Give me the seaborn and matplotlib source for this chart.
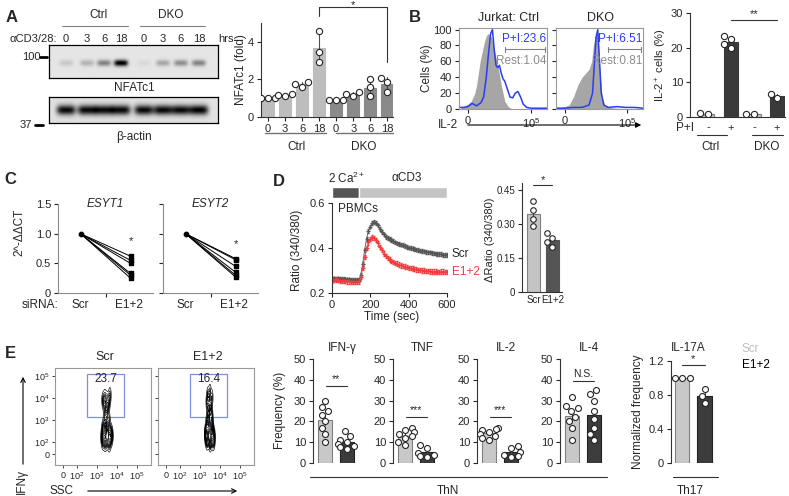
import numpy as np
import pandas as pd
import matplotlib
matplotlib.use('Agg')
import matplotlib.pyplot as plt
import seaborn as sns
from matplotlib.lines import Line2D
from matplotlib.patches import FancyArrowPatch, Rectangle

# ---------------- data ----------------
# A: western blot band strength (0 = none, 1 = saturated)
lane_labels = ['0', '3', '6', '18', '0', '3', '6', '18']
nfatc1_bands = [0.12, 0.2, 0.4, 0.95, 0.05, 0.25, 0.35, 0.4]
actin_bands = [0.85, 0.85, 0.85, 0.85, 0.85, 0.85, 0.85, 0.88]
# A: NFATc1 fold, 3 replicates per time point
nfat_groups = ['Ctrl 0', 'Ctrl 3', 'Ctrl 6', 'Ctrl 18', 'DKO 0', 'DKO 3', 'DKO 6', 'DKO 18']
nfat_points = [[1.0, 1.0, 1.0], [1.1, 1.15, 1.2], [1.6, 1.75, 1.85], [4.6, 3.45, 2.9],
               [0.9, 0.9, 0.9], [1.1, 1.2, 1.35], [1.1, 1.6, 2.0], [1.35, 1.85, 2.1]]

# B: IL-2 histograms (x as fraction of axis, y = cells %)
ctrl_rest_x = [0, 0.05, 0.1, 0.14, 0.18, 0.2, 0.22, 0.24, 0.27, 0.29, 0.31, 0.33, 0.35, 0.37,
               0.39, 0.41, 0.43, 0.45, 0.48, 0.52, 0.56, 0.6, 1.0]
ctrl_rest_y = [0, 3, 6, 10, 20, 30, 45, 60, 75, 85, 92, 95, 93, 90, 80, 70, 60, 50, 30, 10, 3, 0, 0]
ctrl_pi_x = [0, 0.05, 0.1, 0.15, 0.2, 0.25, 0.28, 0.31, 0.34, 0.36, 0.38, 0.40, 0.42, 0.44, 0.46,
             0.48, 0.50, 0.52, 0.55, 0.58, 0.61, 0.64, 0.67, 0.70, 0.73, 0.77, 0.82, 0.9, 1.0]
ctrl_pi_y = [2, 2, 3, 7, 4, 8, 15, 40, 75, 95, 100, 75, 55, 52, 55, 45, 38, 35, 25, 15, 14, 20,
             22, 15, 6, 2, 1, 1, 1]
dko_rest_x = [0, 0.05, 0.1, 0.15, 0.2, 0.25, 0.3, 0.34, 0.38, 0.41, 0.43, 0.45, 0.47, 0.49, 0.51,
              0.53, 0.56, 0.6, 0.7, 1.0]
dko_rest_y = [0, 2, 3, 5, 15, 30, 40, 45, 50, 60, 80, 92, 95, 80, 40, 15, 5, 2, 1, 0]
dko_pi_x = [0, 0.1, 0.2, 0.3, 0.38, 0.42, 0.44, 0.46, 0.48, 0.50, 0.52, 0.55, 0.6, 0.7, 0.8, 0.9, 1.0]
dko_pi_y = [1, 1, 2, 2, 5, 20, 55, 90, 100, 60, 20, 5, 2, 3, 2, 2, 1]
# B: IL-2+ cells
il2_groups = ['Ctrl -', 'Ctrl +', 'DKO -', 'DKO +']
il2_points = [[0.9, 1.1], [23.5, 22.5, 21.0, 20.0], [0.8, 1.0], [6.6, 5.4]]

# C: qPCR 2^-ddCT, Scr = 1
esyt1_e12 = [0.62, 0.55, 0.5, 0.33, 0.3, 0.25]
esyt2_e12 = [0.58, 0.56, 0.45, 0.35, 0.3, 0.27]

# D: calcium traces (every 10 s)
time_sec = list(range(0, 610, 10))
scr_ratio = [0.265, 0.265, 0.262, 0.265, 0.263, 0.262, 0.262, 0.26, 0.26, 0.26, 0.258, 0.258, 0.257,
             0.257, 0.257,
             0.28, 0.33, 0.39, 0.44, 0.475, 0.495, 0.51, 0.515, 0.51, 0.5,
             0.485, 0.47, 0.46, 0.45, 0.445, 0.44, 0.435, 0.43, 0.425, 0.42,
             0.418, 0.415, 0.412, 0.41, 0.405, 0.402, 0.4, 0.398, 0.395, 0.393,
             0.39, 0.388, 0.386, 0.385, 0.383, 0.38, 0.38, 0.378, 0.376, 0.375,
             0.374, 0.372, 0.372, 0.37, 0.37, 0.37]
e12_ratio = [0.255, 0.258, 0.26, 0.258, 0.255, 0.255, 0.253, 0.255, 0.252, 0.252, 0.25, 0.25, 0.25,
             0.25, 0.252,
             0.27, 0.31, 0.36, 0.4, 0.425, 0.44, 0.447, 0.445, 0.435, 0.42,
             0.405, 0.39, 0.375, 0.365, 0.355, 0.348, 0.342, 0.337, 0.333, 0.33,
             0.326, 0.323, 0.32, 0.317, 0.315, 0.312, 0.31, 0.308, 0.306, 0.305,
             0.303, 0.302, 0.3, 0.299, 0.298, 0.297, 0.296, 0.295, 0.295, 0.295,
             0.294, 0.294, 0.295, 0.295, 0.294, 0.294]
scr_sem = 0.008
e12_sem = 0.01
dratio_scr = [0.40, 0.36, 0.32, 0.29]
dratio_e12 = [0.26, 0.24, 0.22, 0.20]

# E: flow events (log10 SSC, log10 IFNg)
scr_ssc = [3.4, 3.5, 3.6, 3.35, 3.55, 3.3, 3.65, 3.45, 3.5, 3.4, 3.6, 3.5, 3.35, 3.3, 3.55, 3.65,
           3.4, 3.7, 3.5, 3.3, 3.6, 3.4, 3.5, 3.7, 3.35, 3.55, 3.65, 3.3, 3.45, 3.4, 3.6, 3.5,
           3.75, 3.25]
scr_ifng = [4.05, 3.95, 3.85, 3.8, 3.7, 3.9, 4.15, 3.6, 3.4, 3.2, 3.0, 2.85, 2.7, 2.6, 2.55, 2.5,
            2.45, 2.4, 2.35, 2.3, 2.3, 2.25, 2.2, 2.2, 2.15, 2.1, 2.05, 2.0, 2.0, 1.95, 1.9, 2.4,
            2.3, 2.2]
e12_ssc = [3.5, 3.4, 3.6, 3.45, 3.35, 3.55, 3.5, 3.4, 3.6, 3.5, 3.35, 3.6, 3.4, 3.55, 3.3, 3.65,
           3.5, 3.35, 3.7, 3.45, 3.3, 3.6, 3.5, 3.4, 3.7, 3.55, 3.35, 3.65, 3.5, 3.3, 3.45, 3.6]
e12_ifng = [4.3, 4.15, 4.05, 3.95, 3.8, 3.6, 3.45, 3.3, 3.15, 3.0, 2.9, 2.75, 2.6, 2.5, 2.45, 2.4,
            2.35, 2.3, 2.3, 2.25, 2.2, 2.2, 2.15, 2.1, 2.1, 2.05, 2.0, 1.95, 1.9, 2.35, 2.4, 2.55]
gate_pct = ['23.7', '16.4']
# E: cytokine frequencies (%)
ifng_scr = [30, 27, 25, 23, 20, 17, 14, 10]
ifng_e12 = [15.5, 13, 11, 10, 9, 8, 7.5, 6.5]
tnf_scr = [17, 16, 15, 14, 13, 12, 10, 8.5]
tnf_e12 = [8.5, 7, 5, 4, 3.5, 3]
il2_scr = [17, 16.5, 16, 15, 14, 13, 12, 11]
il2_e12 = [8, 7, 5.5, 4, 3.5, 3]
il4_scr = [31.5, 27.5, 26.5, 25, 22, 20, 17, 11]
il4_e12 = [35, 33, 30, 25, 21, 17, 14, 11]
il17_scr = [1.0, 1.0, 1.0]
il17_e12 = [0.87, 0.79, 0.71]

# ---------------- figure helpers ----------------
W, H = 789, 496
sns.set_style('ticks')
plt.rcParams['font.family'] = ['Liberation Sans', 'DejaVu Sans']
plt.rcParams.update({
    'mathtext.fontset': 'custom', 'mathtext.rm': 'Liberation Sans',
    'mathtext.it': 'Liberation Sans:italic', 'mathtext.default': 'regular',
    'axes.linewidth': 0.8, 'axes.edgecolor': '0.2',
    'xtick.major.width': 0.8, 'ytick.major.width': 0.8,
    'xtick.major.size': 3, 'ytick.major.size': 3,
    'xtick.labelsize': 8, 'ytick.labelsize': 8,
    'xtick.major.pad': 2, 'ytick.major.pad': 2,
})
fig = plt.figure(figsize=(W / 100, H / 100), dpi=100)


def px_ax(x0, y0, x1, y1):
    return fig.add_axes([x0 / W, 1 - y1 / H, (x1 - x0) / W, (y1 - y0) / H])


def ftext(x, y, s, size=8, ha='center', va='center', **kw):
    fig.text(x / W, 1 - y / H, s, size=size, ha=ha, va=va, **kw)


def fline(x0, y0, x1, y1, lw=0.8, color='0.2'):
    fig.add_artist(Line2D([x0 / W, x1 / W], [1 - y0 / H, 1 - y1 / H], lw=lw, color=color))


def farrow(x0, y0, x1, y1, style='-|>'):
    fig.add_artist(FancyArrowPatch((x0 / W, 1 - y0 / H), (x1 / W, 1 - y1 / H),
                                   transform=fig.transFigure, arrowstyle=style,
                                   mutation_scale=8, lw=0.8, color='black'))


def bar_panel(ax, groups, point_lists, faces, edges, width, errorbar, size=4.5):
    df = pd.DataFrame({'grp': [g for g, pts in zip(groups, point_lists) for _ in pts],
                       'val': [v for pts in point_lists for v in pts]})
    sns.barplot(data=df, x='grp', y='val', hue='grp', order=groups, hue_order=groups,
                palette=dict(zip(groups, faces)), errorbar=errorbar, width=width,
                legend=False, err_kws={'linewidth': 0.8, 'color': '0.3'}, ax=ax)
    for patch, ec in zip(ax.patches, edges):
        patch.set_edgecolor(ec)
        patch.set_linewidth(0.8)
    sns.swarmplot(data=df, x='grp', y='val', order=groups, color='white',
                  edgecolor='0.15', linewidth=0.8, size=size, ax=ax)
    ax.set_xlabel('')
    ax.set_ylabel('')
    sns.despine(ax=ax)


# ---------------- panel A ----------------
ftext(12, 18, 'A', size=12, weight='bold')
ftext(99, 15, 'Ctrl', size=8.5)
ftext(171, 15, 'DKO', size=8.5)
fline(62, 26, 128, 26, color='0.5')
fline(140, 26, 205, 26, color='0.5')
ftext(33, 39, 'αCD3/28:', size=8)
lane_x = [66, 87, 104, 121, 144, 163, 181, 199]
for lx, lab in zip(lane_x, lane_labels):
    ftext(lx, 39, lab, size=8)
ftext(226, 39, 'hrs', size=8)


def blot(ax, bands, y0, y1, yc, hh, hw, bg):
    xs = np.linspace(49, 218, 340)
    ys = np.linspace(y0, y1, 80)
    X, Y = np.meshgrid(xs, ys)
    img = np.full(X.shape, bg)
    for lx, v in zip(lane_x, bands):
        img -= v * np.exp(-((X - lx) / hw) ** 4 - ((Y - yc) / hh) ** 2)
    ax.imshow(np.clip(img, 0, 1), cmap='gray', vmin=0, vmax=1,
              extent=(49, 218, y1, y0), aspect='auto', interpolation='bilinear')
    ax.set_xlim(49, 218)
    ax.set_ylim(y1, y0)
    ax.set_xticks([])
    ax.set_yticks([])
    for s in ax.spines.values():
        s.set_linewidth(0.9)
        s.set_color('black')


blot(px_ax(49, 45, 218, 78), nfatc1_bands, 45, 78, 63, 3.2, 7, 0.9)
blot(px_ax(49, 97, 218, 123), actin_bands, 97, 123, 110, 5, 9.5, 0.88)
ftext(31, 57, '100', size=8)
fline(40, 57, 47, 57, lw=2, color='black')
ftext(26, 125, '37', size=8)
fline(35, 125, 43, 125, lw=2, color='black')
ftext(134, 88, 'NFATc1', size=8.5)
ftext(134, 137, 'β-actin', size=8.5)

ax = px_ax(261, 23, 393, 117)
bar_panel(ax, nfat_groups, nfat_points, ['#bdbdbd'] * 4 + ['#8a8a8a'] * 4,
          ['#bdbdbd'] * 4 + ['#8a8a8a'] * 4, 0.7, 'sd', size=4.5)
ax.set_ylim(0, 5)
ax.set_xlim(-0.42, 7.34)
ax.set_yticks([0, 2, 4])
ax.set_xticks(range(8))
ax.set_xticklabels(lane_labels)
ax.plot([3, 3, 7, 7], [5.35, 5.87, 5.87, 2.95], color='0.2', lw=0.8, clip_on=False)
ax.text(5, 5.77, '*', ha='center', va='baseline', size=8, clip_on=False)
ftext(241, 70, 'NFATc1 (fold)', size=8.5, rotation=90)
fline(265, 133, 326, 133, color='0.45', lw=1)
fline(336, 133, 393, 133, color='0.45', lw=1)
ftext(296, 147, 'Ctrl', size=8.5)
ftext(364, 147, 'DKO', size=8.5)

# ---------------- panel B ----------------
ftext(415, 18, 'B', size=12, weight='bold')
ftext(508, 18, 'Jurkat: Ctrl', size=9)
ftext(600, 18, 'DKO', size=9)
hists = [(px_ax(459, 28, 547, 109), ctrl_rest_x, ctrl_rest_y, ctrl_pi_x, ctrl_pi_y,
          'P+I:23.6', 'Rest:1.04', 0.52),
         (px_ax(556, 28, 643, 109), dko_rest_x, dko_rest_y, dko_pi_x, dko_pi_y,
          'P+I:6.51', 'Rest:0.81', 0.6)]
for i, (ax, rx, ry, px, py, t1, t2, gx) in enumerate(hists):
    ax.fill_between(rx, ry, color='#a6a6a6', lw=0)
    sns.lineplot(x=px, y=py, color='#2b3cf2', lw=1.1, ax=ax)
    ax.set_xlim(0, 1)
    ax.set_ylim(0, 102)
    ax.set_xticks([0.1, 0.82])
    ax.set_xticklabels(['0', '$10^5$'])
    ax.set_yticks([0, 20, 40, 60, 80, 100])
    if i > 0:
        ax.set_yticklabels([])
    for s in ax.spines.values():
        s.set_color('0.6')
    ax.plot([gx, 0.98], [75, 75], color='0.5', lw=0.8)
    ax.plot([gx, gx], [72, 78], color='0.5', lw=0.8)
    ax.plot([0.98, 0.98], [72, 78], color='0.5', lw=0.8)
    ax.text(0.99, 88, t1, color='#2b3cf2', ha='right', va='center', size=8.5)
    ax.text(0.99, 60, t2, color='0.55', ha='right', va='center', size=8.5)
ftext(427, 68, 'Cells (%)', size=8.5, rotation=90)
ftext(448, 125, 'IL-2', size=8.5)
farrow(465, 125, 644, 125)

ax = px_ax(690, 13, 785, 117)
bar_panel(ax, il2_groups, il2_points, ['#c4c4c4', '#3a3a3a', '#c4c4c4', '#3a3a3a'],
          ['0.5', '#3a3a3a', '0.5', '#3a3a3a'], 0.57, 'se', size=4.5)
ax.set_ylim(0, 30)
ax.set_xlim(-0.78, 3.35)
ax.set_yticks([0, 10, 20, 30])
ax.set_xticks(range(4))
ax.set_xticklabels(['-', '+', '-', '+'])
ax.tick_params(axis='x', length=0, pad=4)
ax.plot([1, 3], [28, 28], color='0.2', lw=0.8, clip_on=False)
ax.text(2, 28.3, '**', ha='center', va='bottom', size=8)
ftext(661, 65, 'IL-2$^+$ cells (%)', size=8, rotation=90)
ftext(685, 128, 'P+I', size=8.5)
fline(697, 135, 727, 135, color='0.2')
fline(752, 135, 783, 135, color='0.2')
ftext(711, 147, 'Ctrl', size=8.5)
ftext(767, 147, 'DKO', size=8.5)

# ---------------- panel C ----------------
ftext(10, 180, 'C', size=12, weight='bold')
for i, (x0, vals, title) in enumerate([(58, esyt1_e12, 'ESYT1'), (163, esyt2_e12, 'ESYT2')]):
    ax = px_ax(x0, 204, x0 + 95, 293)
    df = pd.DataFrame({'rep': list(range(len(vals))) * 2,
                       'pos': [0] * len(vals) + [1] * len(vals),
                       'val': [1.0] * len(vals) + vals})
    sns.lineplot(data=df, x='pos', y='val', units='rep', estimator=None,
                 color='black', lw=0.7, ax=ax)
    ax.scatter([0], [1.0], s=10, marker='o', color='black', zorder=3)
    ax.scatter([1] * len(vals), vals, s=12, marker='s', color='black', zorder=3)
    ax.text(1, max(vals) + 0.25, '*', ha='center', va='center', size=8)
    ax.set_xlim(-0.45, 1.45)
    ax.set_ylim(0, 1.5)
    ax.set_yticks([0, 0.5, 1.0, 1.5])
    ax.set_yticklabels(['0', '0.5', '1.0', '1.5'] if i == 0 else [])
    ax.set_xticks([0.5])
    ax.set_xticklabels([''])
    ax.set_xlabel('')
    ax.set_ylabel('')
    for s in ['left', 'bottom']:
        ax.spines[s].set_color('0.55')
    sns.despine(ax=ax)
    ax.text(0.5, 1.5, title, style='italic', ha='center', va='center', size=8.5)
    ftext(x0 + 22, 305, 'Scr', size=8.5)
    ftext(x0 + 71, 305, 'E1+2', size=8.5)
ftext(40, 305, 'siRNA:', size=8.5)
ftext(19, 232, '2^-ΔΔCT', size=8.5, rotation=90)

# ---------------- panel D ----------------
ftext(279, 182, 'D', size=12, weight='bold')
ax = px_ax(332, 187, 447, 198)
ax.barh([0, 0], [140, 460], left=[0, 140], color=['#555555', '#c4c4c4'], height=1)
ax.set_xlim(0, 600)
ax.set_ylim(-0.5, 0.5)
ax.axis('off')
ftext(347, 178, '2 Ca$^{2+}$', size=8.5)
ftext(407, 178, 'αCD3', size=8.5)

ax = px_ax(332, 203, 447, 293)
ax.errorbar(time_sec, scr_ratio, yerr=scr_sem, color='#555555', marker='+', ms=2.5, lw=0.6,
            elinewidth=0.5, capsize=1)
ax.errorbar(time_sec, e12_ratio, yerr=e12_sem, color='#f03c3c', marker='+', ms=2.5, lw=0.6,
            elinewidth=0.5, capsize=1)
ax.set_xlim(0, 600)
ax.set_ylim(0.2, 0.6)
ax.set_xticks([0, 200, 400, 600])
ax.set_yticks([0.2, 0.4, 0.6])
ax.set_yticklabels(['0.2', '0.4', '0.6'])
sns.despine(ax=ax)
ax.text(30, 0.575, 'PBMCs', size=8.5, va='center')
ftext(452, 254, 'Scr', size=8.5, ha='left')
ftext(452, 272, 'E1+2', size=8.5, ha='left', color='#f03c3c')
ftext(297, 250, 'Ratio (340/380)', size=8.5, rotation=90)
ftext(392, 317, 'Time (sec)', size=8.5)

ax = px_ax(522, 183, 562, 292)
bar_panel(ax, ['Scr', 'E1+2'], [dratio_scr, dratio_e12], ['#c4c4c4', '#555555'],
          ['0.5', '#555555'], 0.7, 'se', size=4)
ax.set_ylim(0, 0.48)
ax.set_xlim(-0.6, 1.5)
ax.set_yticks([0, 0.15, 0.30, 0.45])
ax.set_yticklabels(['0', '0.15', '0.30', '0.45'], size=7)
ax.set_xticks([0, 1])
ax.set_xticklabels(['Scr', 'E1+2'], size=7)
ax.tick_params(axis='x', length=0)
ax.plot([0, 1], [0.47, 0.47], color='0.2', lw=0.8, clip_on=False)
ax.text(0.5, 0.472, '*', ha='center', va='bottom', size=8)
ftext(490, 240, 'ΔRatio (340/380)', size=8, rotation=90)

# ---------------- panel E ----------------
ftext(10, 353, 'E', size=12, weight='bold')
flows = [(55, scr_ssc, scr_ifng, 'Scr', gate_pct[0]), (158, e12_ssc, e12_ifng, 'E1+2', gate_pct[1])]
for i, (x0, fx, fy, title, pct) in enumerate(flows):
    ax = px_ax(x0, 368, x0 + 96, 465)
    sns.kdeplot(x=fx, y=fy, levels=14, color='black', linewidths=0.45, bw_adjust=0.6, ax=ax)
    ax.add_patch(Rectangle((2.5, 3.14), 1.85, 1.95, fill=False, ec='#7f8fe0', lw=0.9))
    ax.text(3.42, 4.85, pct, ha='center', va='center', size=8.5)
    ax.set_xlim(0.9, 5.7)
    ax.set_ylim(0.95, 5.36)
    ax.set_xticks([1.3, 2, 3, 4, 5])
    ax.set_xticklabels(['0', '$10^2$', '$10^3$', '$10^4$', '$10^5$'], size=6.5)
    ax.set_yticks([1.45, 2, 3, 4, 5])
    ax.set_yticklabels(['0', '$10^2$', '$10^3$', '$10^4$', '$10^5$'] if i == 0 else [], size=6.5)
    ax.tick_params(length=2, width=0.6)
    ax.set_xlabel('')
    ax.set_ylabel('')
    for s in ax.spines.values():
        s.set_color('0.6')
    ftext(x0 + 50, 357, title, size=9)
ftext(22, 482, 'IFNγ', size=8.5, rotation=90)
farrow(23, 467, 23, 374, style='->')
ftext(62, 491, 'SSC', size=8.5)
farrow(85, 491, 240, 491, style='->')

cyto = [(313, 'IFN-γ', ifng_scr, ifng_e12, 37, '**'),
        (393, 'TNF', tnf_scr, tnf_e12, 22, '***'),
        (477, 'IL-2', il2_scr, il2_e12, 22, '***'),
        (560, 'IL-4', il4_scr, il4_e12, 39.5, 'N.S.')]
for x0, title, s_pts, e_pts, sig_y, sig in cyto:
    ax = px_ax(x0, 359, x0 + 47, 463)
    bar_panel(ax, ['Scr', 'E1+2'], [s_pts, e_pts], ['#c8c8c8', '#3c3c3c'],
              ['0.5', '#222222'], 0.64, 'se', size=4.3)
    ax.set_ylim(0, 50)
    ax.set_xlim(-0.55, 1.6)
    ax.set_yticks([0, 10, 20, 30, 40, 50])
    ax.set_xticks([])
    ax.spines['bottom'].set_visible(False)
    ax.plot([0.05, 1.0], [sig_y, sig_y], color='0.2', lw=0.8)
    ax.text(0.52, sig_y + 0.8, sig, ha='center', va='bottom', size=7.5)
    ftext(x0 + 29, 348, title, size=8.5)
ftext(280, 410, 'Frequency (%)', size=8.5, rotation=90)
fline(310, 477, 607, 477, color='0.2')
ftext(448, 491, 'ThN', size=8.5)

ax = px_ax(671, 361, 718, 463)
bar_panel(ax, ['Scr', 'E1+2'], [il17_scr, il17_e12], ['#c8c8c8', '#3c3c3c'],
          ['0.5', '#222222'], 0.64, 'se', size=4.3)
ax.set_ylim(0, 1.2)
ax.set_xlim(-0.5, 1.6)
ax.set_yticks([0, 0.4, 0.8, 1.2])
ax.set_yticklabels(['0', '0.4', '0.8', '1.2'])
ax.set_xticks([])
ax.spines['bottom'].set_visible(False)
ax.plot([0.0, 1.0], [1.15, 1.15], color='0.2', lw=0.8, clip_on=False)
ax.text(0.5, 1.16, '*', ha='center', va='bottom', size=8)
ftext(688, 348, 'IL-17A', size=8.5)
ftext(638, 412, 'Normalized frequency', size=8.5, rotation=90)
fline(673, 477, 718, 477, color='0.2')
ftext(690, 491, 'Th17', size=8.5)
ftext(742, 349, 'Scr', size=8.5, ha='left', color='#bdbdbd')
ftext(742, 365, 'E1+2', size=8.5, ha='left', color='black')

fig.savefig('out.png', dpi=100)
print('saved out.png')
